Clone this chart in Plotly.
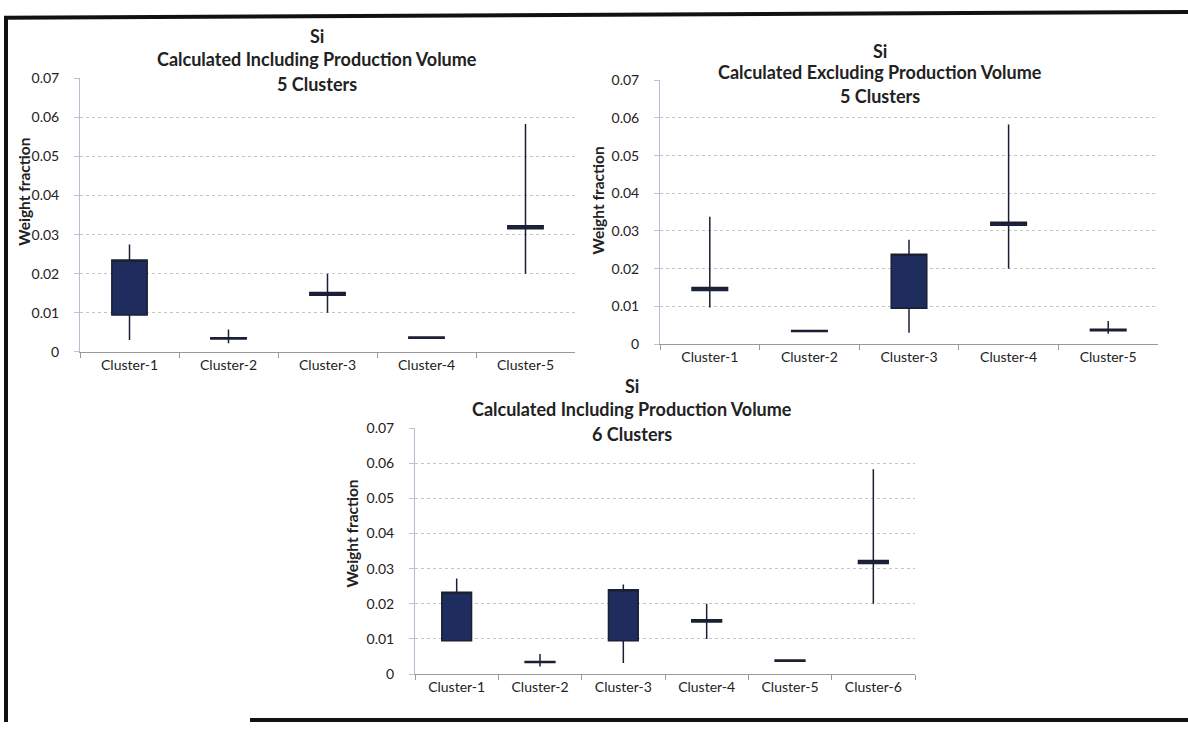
import plotly.graph_objects as go

# chart 1: including production volume, 5 clusters
c1_names = ["Cluster-1", "Cluster-2", "Cluster-3", "Cluster-4", "Cluster-5"]
c1_low = [0.0030, 0.0022, 0.0100, 0.0035, 0.0200]
c1_box_lo = [0.0094, 0.0033, 0.0145, 0.0035, 0.0315]
c1_box_hi = [0.0235, 0.0036, 0.0152, 0.0038, 0.0323]
c1_high = [0.0275, 0.0057, 0.0200, 0.0038, 0.0583]

# chart 2: excluding production volume, 5 clusters
c2_names = ["Cluster-1", "Cluster-2", "Cluster-3", "Cluster-4", "Cluster-5"]
c2_low = [0.0097, 0.0033, 0.0030, 0.0200, 0.0027]
c2_box_lo = [0.0142, 0.0033, 0.0095, 0.0315, 0.0035]
c2_box_hi = [0.0150, 0.0036, 0.0238, 0.0323, 0.0039]
c2_high = [0.0338, 0.0036, 0.0277, 0.0583, 0.0061]

# chart 3: including production volume, 6 clusters
c3_names = ["Cluster-1", "Cluster-2", "Cluster-3", "Cluster-4", "Cluster-5", "Cluster-6"]
c3_low = [0.0095, 0.0022, 0.0032, 0.0100, 0.0037, 0.0200]
c3_box_lo = [0.0095, 0.0033, 0.0095, 0.0148, 0.0037, 0.0315]
c3_box_hi = [0.0233, 0.0036, 0.0240, 0.0155, 0.0040, 0.0323]
c3_high = [0.0272, 0.0057, 0.0255, 0.0200, 0.0040, 0.0583]

titles = [
    ["Si", "Calculated Including Production Volume", "5 Clusters"],
    ["Si", "Calculated Excluding Production Volume", "5 Clusters"],
    ["Si", "Calculated Including Production Volume", "6 Clusters"],
]
y_title = "Weight fraction"

NAVY = "#1f2d5e"
EDGE = "#1a1f33"
FONT = "Lato, Open Sans, sans-serif"

fig = go.Figure()
sets = [
    (c1_names, c1_low, c1_box_lo, c1_box_hi, c1_high, "x", "y"),
    (c2_names, c2_low, c2_box_lo, c2_box_hi, c2_high, "x2", "y2"),
    (c3_names, c3_low, c3_box_lo, c3_box_hi, c3_high, "x3", "y3"),
]
for names, lo, blo, bhi, hi, xa, ya in sets:
    fig.add_trace(go.Candlestick(
        x=names, open=blo, close=bhi, low=lo, high=hi,
        xaxis=xa, yaxis=ya, whiskerwidth=0, showlegend=False,
        increasing=dict(fillcolor=NAVY, line=dict(color=EDGE, width=1.5)),
        decreasing=dict(fillcolor=NAVY, line=dict(color=EDGE, width=1.5)),
    ))

W, H = 1188, 730
# plot areas in pixels: left, right, top(0.07), bottom(0)
areas = [(80, 575, 71, 351), (660, 1158, 73, 343), (415, 915, 429, 681)]

xstyle = dict(type="category", showgrid=False, showline=True, linecolor="#9a9a9a",
              ticks="outside", tickson="boundaries", ticklen=5, tickcolor="#9a9a9a",
              tickfont=dict(size=14, color="#222"), rangeslider=dict(visible=False),
              fixedrange=True)
ystyle = dict(range=[0, 0.07], dtick=0.01, showgrid=True, gridcolor="#c4c4c4",
              griddash="dot", showline=True, linecolor="#b8bcd0", zeroline=False,
              tickfont=dict(size=14, color="#222"), ticks="outside", ticklen=5,
              tickcolor="#c4c4c4", ticklabelstandoff=12)

layout = dict(width=W, height=H, margin=dict(l=0, r=0, t=0, b=0),
              paper_bgcolor="white", plot_bgcolor="white",
              font=dict(family=FONT, color="#222"), boxgap=0.49)
for i, (l, r, t, b) in enumerate(areas):
    sx = "" if i == 0 else str(i + 1)
    layout["xaxis" + sx] = dict(xstyle, domain=[l / W, r / W], anchor="y" + sx)
    layout["yaxis" + sx] = dict(ystyle, domain=[1 - b / H, 1 - t / H], anchor="x" + sx)
fig.update_layout(**layout)

# title line centres (x, y of each line)
title_pos = [(317, [28, 51, 77]), (880, [43, 65, 89]), (632, [386, 410, 435])]
for (cx, ys), lines in zip(title_pos, titles):
    for cy, txt in zip(ys, lines):
        fig.add_annotation(x=cx / W, y=1 - cy / H, xref="paper", yref="paper",
                           xanchor="center", yanchor="middle", showarrow=False,
                           text="<b>" + txt + "</b>", font=dict(size=18, color="#222"))

# rotated y-axis titles, sitting close to the tick labels
for cx, cy in [(24, 187), (598, 196), (352, 537)]:
    fig.add_annotation(x=cx / W, y=1 - cy / H, xref="paper", yref="paper",
                       xanchor="center", yanchor="middle", showarrow=False, textangle=-90,
                       text="<b>" + y_title + "</b>", font=dict(size=15.5, color="#222"))

# scanned frame around the figure
frame = [((4, 9), (1188, 3)), ((6, 8), (6, 730)), ((250, 728), (1188, 728))]
for (xa0, ya0), (xa1, ya1) in frame:
    fig.add_shape(type="line", xref="paper", yref="paper",
                  x0=xa0 / W, y0=1 - ya0 / H, x1=xa1 / W, y1=1 - ya1 / H,
                  line=dict(color="#111", width=4))

fig.write_html("out.html", config={"displayModeBar": False},
               post_script="document.body.style.margin='0';")
